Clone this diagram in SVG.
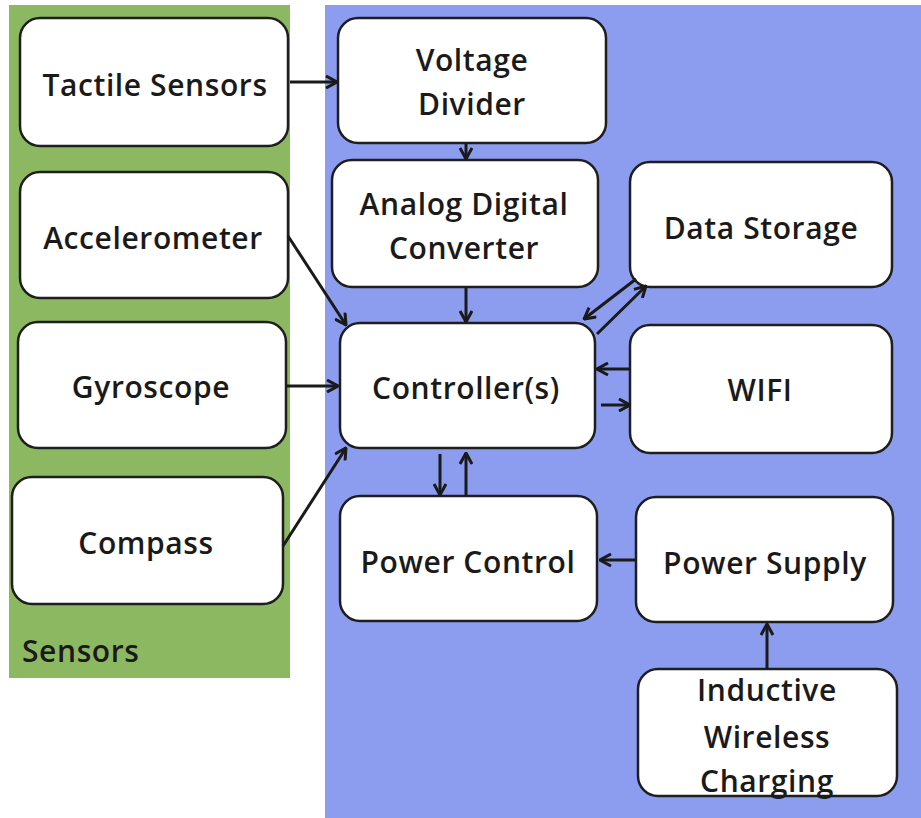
<svg xmlns="http://www.w3.org/2000/svg" width="921" height="818" viewBox="0 0 921 818">
<defs>
<style>
.box{fill:#fff;stroke:#1e1e1e;stroke-width:2.5}
.t{font-family:"Open Sans","Liberation Sans",Arial,sans-serif;font-size:30px;letter-spacing:0.6px;fill:#1a1a1a;text-anchor:middle;font-weight:600}
.c{stroke:#1a1a1a;stroke-width:3;fill:none;marker-end:url(#ah)}
</style>
<marker id="ah" viewBox="0 0 14 14" refX="13" refY="7" markerWidth="14" markerHeight="14" markerUnits="userSpaceOnUse" orient="auto">
<path d="M2,1 L13,7 L2,13" fill="none" stroke="#1a1a1a" stroke-width="3"/>
</marker>
</defs>
<rect width="921" height="818" fill="#fff"/>
<g id="sensors-panel">
<rect x="9" y="5" width="281" height="673" fill="#8db862"/>
<text x="22" y="662" font-family="'Open Sans','Liberation Sans',Arial,sans-serif" font-size="30" letter-spacing="0.6" font-weight="600" fill="#1a1a1a">Sensors</text>
</g>
<g id="main-panel">
<rect x="325" y="5" width="596" height="813" fill="#8c9df0"/>
</g>
<g id="tactile"><rect class="box" x="20" y="18" width="268" height="128" rx="20"/><text class="t" x="155" y="96">Tactile Sensors</text></g>
<g id="accelerometer"><rect class="box" x="20" y="172" width="268" height="126" rx="20"/><text class="t" x="153" y="249">Accelerometer</text></g>
<g id="gyroscope"><rect class="box" x="18" y="322" width="268" height="126" rx="20"/><text class="t" x="151" y="398">Gyroscope</text></g>
<g id="compass"><rect class="box" x="12" y="477" width="271" height="127" rx="20"/><text class="t" x="146" y="554">Compass</text></g>
<g id="voltage"><rect class="box" x="338" y="18" width="268" height="125" rx="20"/><text class="t" x="472" y="71">Voltage</text><text class="t" x="472" y="115">Divider</text></g>
<g id="adc"><rect class="box" x="332" y="160" width="266" height="127" rx="20"/><text class="t" x="464" y="215">Analog Digital</text><text class="t" x="464" y="259">Converter</text></g>
<g id="storage"><rect class="box" x="630" y="162" width="262" height="125" rx="20"/><text class="t" x="761" y="239">Data Storage</text></g>
<g id="controller"><rect class="box" x="340" y="323" width="255" height="125" rx="20"/><text class="t" x="466" y="399">Controller(s)</text></g>
<g id="wifi"><rect class="box" x="630" y="325" width="262" height="128" rx="20"/><text class="t" x="760" y="401">WIFI</text></g>
<g id="powercontrol"><rect class="box" x="340" y="496" width="257" height="125" rx="20"/><text class="t" x="468" y="573">Power Control</text></g>
<g id="powersupply"><rect class="box" x="636" y="497" width="257" height="125" rx="20"/><text class="t" x="765" y="574">Power Supply</text></g>
<g id="inductive"><rect class="box" x="638" y="669" width="259" height="127" rx="20"/><text class="t" x="767" y="701">Inductive</text><text class="t" x="767" y="748">Wireless</text><text class="t" x="767" y="792">Charging</text></g>
<g id="connectors">
<line class="c" x1="290" y1="82" x2="337" y2="82"/>
<line class="c" x1="466" y1="143" x2="466" y2="159"/>
<line class="c" x1="466" y1="287" x2="466" y2="322"/>
<line class="c" x1="288" y1="236" x2="346" y2="325"/>
<line class="c" x1="286" y1="386" x2="338" y2="386"/>
<line class="c" x1="283" y1="546" x2="346" y2="448"/>
<line class="c" x1="636" y1="279" x2="584" y2="319"/>
<line class="c" x1="597" y1="334" x2="646" y2="286"/>
<line class="c" x1="630" y1="369" x2="597" y2="369"/>
<line class="c" x1="601" y1="405" x2="630" y2="405"/>
<line class="c" x1="440" y1="454" x2="440" y2="495"/>
<line class="c" x1="466" y1="496" x2="466" y2="453"/>
<line class="c" x1="636" y1="560" x2="600" y2="560"/>
<line class="c" x1="767" y1="669" x2="767" y2="624"/>
</g>
</svg>
